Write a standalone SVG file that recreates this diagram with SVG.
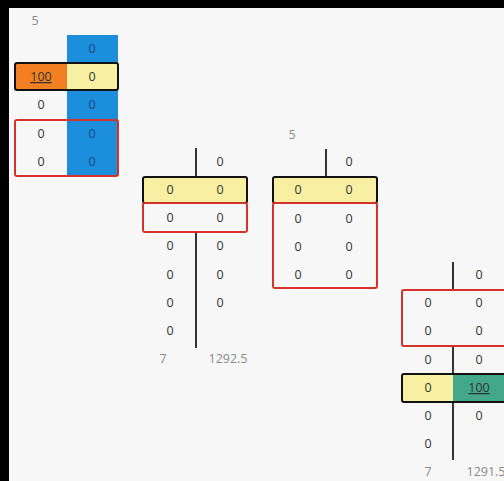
<svg xmlns="http://www.w3.org/2000/svg" width="504" height="481" viewBox="0 0 504 481">
<style>
text{font-family:"Open Sans","Liberation Sans",Arial,sans-serif;font-size:12.5px;text-anchor:middle}
.v{fill:#333333}
.b{fill:#17467f}
.g{fill:#8a8a8a}
.u{text-decoration:underline}
.yel{fill:#f7f0a3}
.blk{fill:none;stroke:#111;stroke-width:2}
.red{fill:#f7f7f7;stroke:#d6322c;stroke-width:2}
.ln{stroke:#333;stroke-width:2}
</style>
<rect x="0" y="0" width="504" height="481" fill="#f7f7f7"/>
<rect x="0" y="0" width="9" height="481" fill="#000"/>
<rect x="0" y="0" width="504" height="8" fill="#000"/>

<g id="table1">
<text class="g" x="35" y="25">5</text>
<rect x="67" y="35" width="51" height="140" fill="#1b8fdc"/>
<rect x="15" y="63" width="52" height="27" fill="#f27f22"/>
<rect x="67" y="63" width="51" height="27" class="yel"/>
<rect x="15" y="63" width="103" height="27" rx="2" class="blk"/>
<rect x="15" y="120" width="103" height="56" rx="2" fill="none" stroke="#d6322c" stroke-width="2"/>
<text class="b" x="92" y="53">0</text>
<text class="v" x="92" y="81">0</text>
<text class="v u" x="41" y="81">100</text>
<text class="v" x="41" y="109">0</text>
<text class="b" x="92" y="109">0</text>
<text class="v" x="41" y="138">0</text>
<text class="b" x="92" y="138">0</text>
<text class="v" x="41" y="166">0</text>
<text class="b" x="92" y="166">0</text>
</g>

<g id="table2">
<line x1="196" y1="148" x2="196" y2="348" class="ln"/>
<rect x="143" y="177" width="104" height="26" class="yel"/>
<rect x="143" y="177" width="104" height="26" rx="2" class="blk"/>
<rect x="143" y="203" width="104" height="29" rx="2" class="red"/>
<text class="v" x="220" y="166">0</text>
<text class="v" x="170" y="194">0</text><text class="v" x="220" y="194">0</text>
<text class="v" x="170" y="222">0</text><text class="v" x="220" y="222">0</text>
<text class="v" x="170" y="250">0</text><text class="v" x="220" y="250">0</text>
<text class="v" x="170" y="279">0</text><text class="v" x="220" y="279">0</text>
<text class="v" x="170" y="307">0</text><text class="v" x="220" y="307">0</text>
<text class="v" x="170" y="335">0</text>
<text class="g" x="163" y="363">7</text>
<text class="g" x="228" y="363">1292.5</text>
</g>

<g id="table3">
<text class="g" x="292" y="139">5</text>
<line x1="326" y1="149" x2="326" y2="177" class="ln"/>
<rect x="273" y="177" width="104" height="26" class="yel"/>
<rect x="273" y="177" width="104" height="26" rx="2" class="blk"/>
<rect x="273" y="203" width="104" height="85" rx="2" class="red"/>
<text class="v" x="349" y="166">0</text>
<text class="v" x="298" y="194">0</text><text class="v" x="349" y="194">0</text>
<text class="v" x="298" y="223">0</text><text class="v" x="349" y="223">0</text>
<text class="v" x="298" y="251">0</text><text class="v" x="349" y="251">0</text>
<text class="v" x="298" y="279">0</text><text class="v" x="349" y="279">0</text>
</g>

<g id="table4">
<line x1="453" y1="262" x2="453" y2="460" class="ln"/>
<rect x="402" y="290" width="104" height="56" rx="2" class="red"/>
<rect x="402" y="374" width="51" height="28" class="yel"/>
<rect x="453" y="374" width="53" height="28" fill="#43a889"/>
<rect x="402" y="374" width="104" height="28" rx="2" class="blk"/>
<text class="v" x="479" y="279">0</text>
<text class="v" x="428" y="307">0</text><text class="v" x="479" y="307">0</text>
<text class="v" x="428" y="335">0</text><text class="v" x="479" y="335">0</text>
<text class="v" x="428" y="364">0</text><text class="v" x="479" y="364">0</text>
<text class="v" x="428" y="392">0</text><text class="v u" x="479" y="392">100</text>
<text class="v" x="428" y="420">0</text><text class="v" x="479" y="420">0</text>
<text class="v" x="428" y="448">0</text>
<text class="g" x="428" y="476">7</text>
<text class="g" x="486" y="476">1291.5</text>
</g>
</svg>
